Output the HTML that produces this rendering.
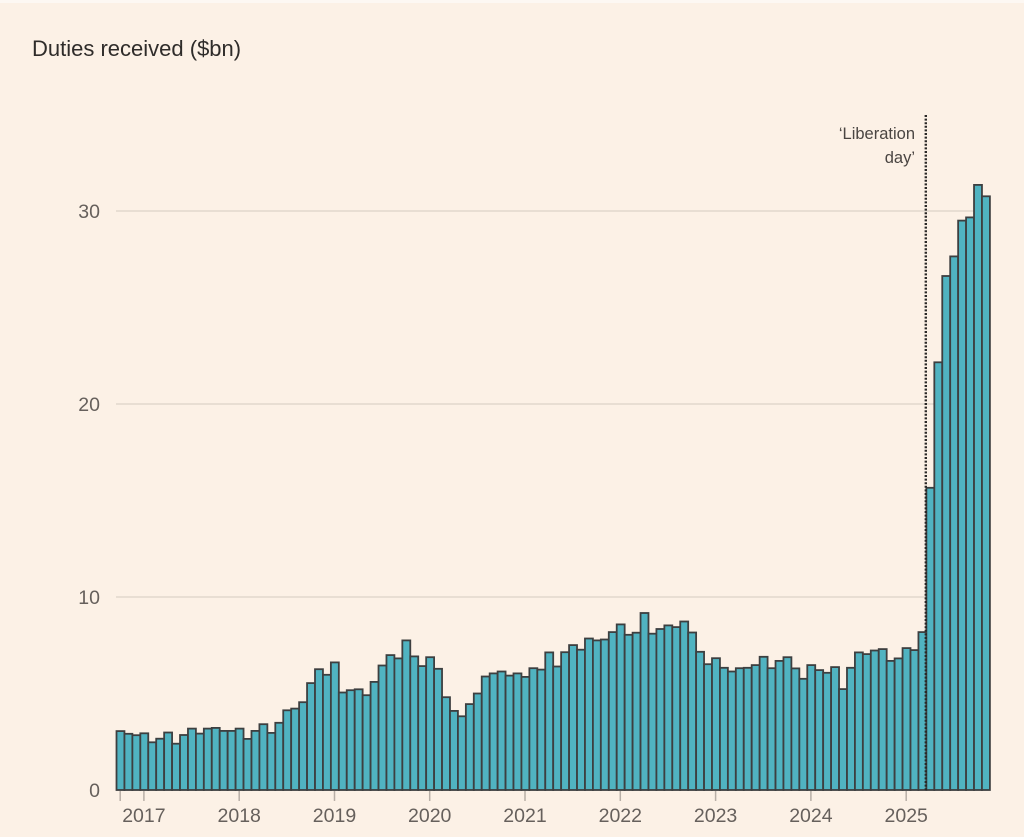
<!DOCTYPE html>
<html>
<head>
<meta charset="utf-8">
<style>
  html, body { margin: 0; padding: 0; background: #fcf1e6; }
  body { width: 1024px; height: 837px; overflow: hidden; }
  svg { display: block; }
  text { font-family: "Liberation Sans", Arial, sans-serif; }
</style>
</head>
<body>
<svg width="1024" height="837" viewBox="0 0 1024 837" xmlns="http://www.w3.org/2000/svg">
  <rect x="0" y="0" width="1024" height="837" fill="#fcf1e6"/>
  <rect x="0" y="0" width="1024" height="3" fill="#fdf8f3"/>

  <text x="32" y="56" font-size="22" fill="#2f2c2a">Duties received ($bn)</text>

  <g stroke="#dcd2c8" stroke-width="1.3">
    <line x1="116" y1="211" x2="990" y2="211"/>
    <line x1="116" y1="404" x2="990" y2="404"/>
    <line x1="116" y1="597" x2="990" y2="597"/>
    <line x1="116" y1="790" x2="990" y2="790"/>
  </g>

  <g font-size="19.5" fill="#66605c" text-anchor="end">
    <text x="100" y="218">30</text>
    <text x="100" y="411">20</text>
    <text x="100" y="604">10</text>
    <text x="100" y="797">0</text>
  </g>

  <g transform="translate(0,790) scale(1,-1)" fill="#50b3c1" stroke="#3d3f40" stroke-width="1.8">
    <rect x="116.5" y="0" width="7.94" height="58.9"/>
    <rect x="124.44" y="0" width="7.94" height="56.2"/>
    <rect x="132.38" y="0" width="7.94" height="54.8"/>
    <rect x="140.32" y="0" width="7.94" height="56.7"/>
    <rect x="148.26" y="0" width="7.94" height="47.7"/>
    <rect x="156.2" y="0" width="7.94" height="51.3"/>
    <rect x="164.14" y="0" width="7.94" height="57.5"/>
    <rect x="172.08" y="0" width="7.94" height="46.3"/>
    <rect x="180.02" y="0" width="7.94" height="55.0"/>
    <rect x="187.96" y="0" width="7.94" height="61.4"/>
    <rect x="195.9" y="0" width="7.94" height="56.4"/>
    <rect x="203.84" y="0" width="7.94" height="61.4"/>
    <rect x="211.78" y="0" width="7.94" height="62.1"/>
    <rect x="219.72" y="0" width="7.94" height="59.1"/>
    <rect x="227.66" y="0" width="7.94" height="59.1"/>
    <rect x="235.6" y="0" width="7.94" height="61.4"/>
    <rect x="243.54" y="0" width="7.94" height="51.1"/>
    <rect x="251.48" y="0" width="7.94" height="59.1"/>
    <rect x="259.42" y="0" width="7.94" height="65.8"/>
    <rect x="267.36" y="0" width="7.94" height="57.1"/>
    <rect x="275.3" y="0" width="7.94" height="67.2"/>
    <rect x="283.24" y="0" width="7.94" height="79.7"/>
    <rect x="291.18" y="0" width="7.94" height="81.4"/>
    <rect x="299.12" y="0" width="7.94" height="87.8"/>
    <rect x="307.06" y="0" width="7.94" height="106.9"/>
    <rect x="315.0" y="0" width="7.94" height="120.8"/>
    <rect x="322.94" y="0" width="7.94" height="115.2"/>
    <rect x="330.88" y="0" width="7.94" height="127.6"/>
    <rect x="338.82" y="0" width="7.94" height="97.5"/>
    <rect x="346.76" y="0" width="7.94" height="99.8"/>
    <rect x="354.7" y="0" width="7.94" height="100.7"/>
    <rect x="362.64" y="0" width="7.94" height="94.8"/>
    <rect x="370.58" y="0" width="7.94" height="108.1"/>
    <rect x="378.52" y="0" width="7.94" height="124.5"/>
    <rect x="386.46" y="0" width="7.94" height="134.9"/>
    <rect x="394.4" y="0" width="7.94" height="131.6"/>
    <rect x="402.34" y="0" width="7.94" height="149.6"/>
    <rect x="410.28" y="0" width="7.94" height="133.6"/>
    <rect x="418.22" y="0" width="7.94" height="123.9"/>
    <rect x="426.16" y="0" width="7.94" height="132.8"/>
    <rect x="434.1" y="0" width="7.94" height="121.2"/>
    <rect x="442.04" y="0" width="7.94" height="92.8"/>
    <rect x="449.98" y="0" width="7.94" height="79.1"/>
    <rect x="457.92" y="0" width="7.94" height="73.7"/>
    <rect x="465.86" y="0" width="7.94" height="85.9"/>
    <rect x="473.8" y="0" width="7.94" height="96.5"/>
    <rect x="481.74" y="0" width="7.94" height="113.5"/>
    <rect x="489.68" y="0" width="7.94" height="116.6"/>
    <rect x="497.62" y="0" width="7.94" height="118.5"/>
    <rect x="505.56" y="0" width="7.94" height="114.4"/>
    <rect x="513.5" y="0" width="7.94" height="116.6"/>
    <rect x="521.44" y="0" width="7.94" height="113.1"/>
    <rect x="529.38" y="0" width="7.94" height="121.8"/>
    <rect x="537.32" y="0" width="7.94" height="120.4"/>
    <rect x="545.26" y="0" width="7.94" height="137.6"/>
    <rect x="553.2" y="0" width="7.94" height="123.5"/>
    <rect x="561.14" y="0" width="7.94" height="137.8"/>
    <rect x="569.08" y="0" width="7.94" height="144.9"/>
    <rect x="577.02" y="0" width="7.94" height="140.3"/>
    <rect x="584.96" y="0" width="7.94" height="151.5"/>
    <rect x="592.9" y="0" width="7.94" height="149.6"/>
    <rect x="600.84" y="0" width="7.94" height="150.5"/>
    <rect x="608.78" y="0" width="7.94" height="157.9"/>
    <rect x="616.72" y="0" width="7.94" height="165.6"/>
    <rect x="624.66" y="0" width="7.94" height="155.2"/>
    <rect x="632.6" y="0" width="7.94" height="157.3"/>
    <rect x="640.54" y="0" width="7.94" height="177.0"/>
    <rect x="648.48" y="0" width="7.94" height="156.3"/>
    <rect x="656.42" y="0" width="7.94" height="161.0"/>
    <rect x="664.36" y="0" width="7.94" height="164.6"/>
    <rect x="672.3" y="0" width="7.94" height="162.9"/>
    <rect x="680.24" y="0" width="7.94" height="168.5"/>
    <rect x="688.18" y="0" width="7.94" height="157.5"/>
    <rect x="696.12" y="0" width="7.94" height="138.2"/>
    <rect x="704.06" y="0" width="7.94" height="125.8"/>
    <rect x="712.0" y="0" width="7.94" height="131.8"/>
    <rect x="719.94" y="0" width="7.94" height="122.2"/>
    <rect x="727.88" y="0" width="7.94" height="118.5"/>
    <rect x="735.82" y="0" width="7.94" height="121.8"/>
    <rect x="743.76" y="0" width="7.94" height="122.2"/>
    <rect x="751.7" y="0" width="7.94" height="124.9"/>
    <rect x="759.64" y="0" width="7.94" height="133.2"/>
    <rect x="767.58" y="0" width="7.94" height="121.8"/>
    <rect x="775.52" y="0" width="7.94" height="129.1"/>
    <rect x="783.46" y="0" width="7.94" height="132.8"/>
    <rect x="791.4" y="0" width="7.94" height="121.6"/>
    <rect x="799.34" y="0" width="7.94" height="111.2"/>
    <rect x="807.28" y="0" width="7.94" height="124.9"/>
    <rect x="815.22" y="0" width="7.94" height="119.9"/>
    <rect x="823.16" y="0" width="7.94" height="117.2"/>
    <rect x="831.1" y="0" width="7.94" height="122.9"/>
    <rect x="839.04" y="0" width="7.94" height="100.9"/>
    <rect x="846.98" y="0" width="7.94" height="122.2"/>
    <rect x="854.92" y="0" width="7.94" height="137.6"/>
    <rect x="862.86" y="0" width="7.94" height="135.9"/>
    <rect x="870.8" y="0" width="7.94" height="139.5"/>
    <rect x="878.74" y="0" width="7.94" height="140.9"/>
    <rect x="886.68" y="0" width="7.94" height="129.1"/>
    <rect x="894.62" y="0" width="7.94" height="131.6"/>
    <rect x="902.56" y="0" width="7.94" height="141.9"/>
    <rect x="910.5" y="0" width="7.94" height="139.9"/>
    <rect x="918.44" y="0" width="7.94" height="157.9"/>
    <rect x="926.38" y="0" width="7.94" height="302.2"/>
    <rect x="934.32" y="0" width="7.94" height="427.7"/>
    <rect x="942.26" y="0" width="7.94" height="514.0"/>
    <rect x="950.2" y="0" width="7.94" height="533.6"/>
    <rect x="958.14" y="0" width="7.94" height="569.4"/>
    <rect x="966.08" y="0" width="7.94" height="572.6"/>
    <rect x="974.02" y="0" width="7.94" height="605.1"/>
    <rect x="981.96" y="0" width="7.94" height="593.7"/>
  </g>

  <line x1="925.8" y1="115" x2="925.8" y2="790" stroke="#2a2827" stroke-width="2.4" stroke-dasharray="2 1.6"/>
  <g font-size="16.5" fill="#4a4542" text-anchor="end">
    <text x="915" y="139">‘Liberation</text>
    <text x="915" y="163">day’</text>
  </g>

  <g stroke="#b8afa7" stroke-width="1.5">
    <line x1="120.2" y1="791" x2="120.2" y2="801"/>
    <line x1="143.9" y1="791" x2="143.9" y2="801"/>
    <line x1="239.2" y1="791" x2="239.2" y2="801"/>
    <line x1="334.5" y1="791" x2="334.5" y2="801"/>
    <line x1="429.7" y1="791" x2="429.7" y2="801"/>
    <line x1="525.0" y1="791" x2="525.0" y2="801"/>
    <line x1="620.3" y1="791" x2="620.3" y2="801"/>
    <line x1="715.6" y1="791" x2="715.6" y2="801"/>
    <line x1="810.9" y1="791" x2="810.9" y2="801"/>
    <line x1="906.2" y1="791" x2="906.2" y2="801"/>
  </g>

  <g font-size="19.5" fill="#66605c" text-anchor="middle">
    <text x="143.9" y="822">2017</text>
    <text x="239.2" y="822">2018</text>
    <text x="334.5" y="822">2019</text>
    <text x="429.7" y="822">2020</text>
    <text x="525.0" y="822">2021</text>
    <text x="620.3" y="822">2022</text>
    <text x="715.6" y="822">2023</text>
    <text x="810.9" y="822">2024</text>
    <text x="906.2" y="822">2025</text>
  </g>
</svg>
</body>
</html>
